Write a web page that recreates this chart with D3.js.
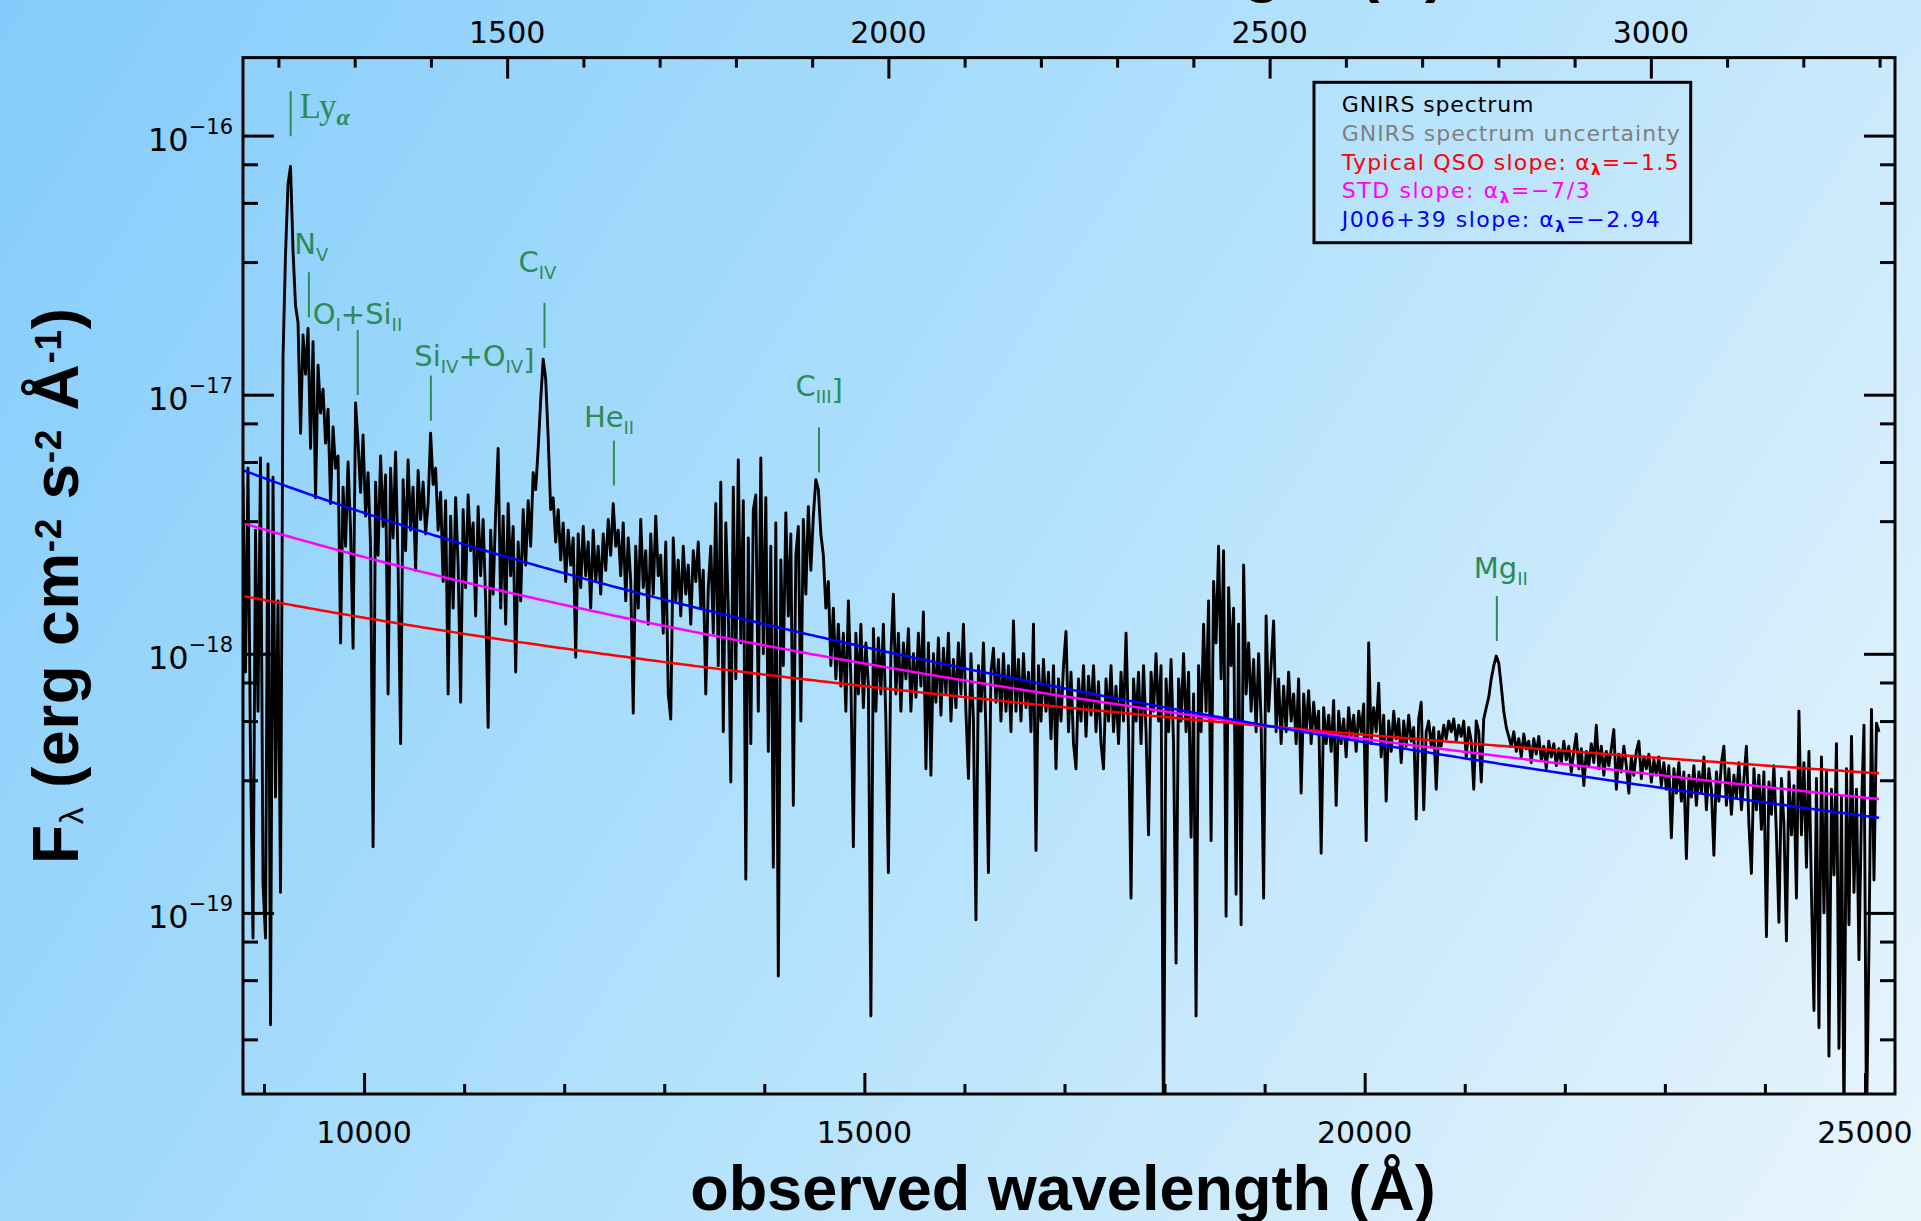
<!DOCTYPE html>
<html>
<head>
<meta charset="utf-8">
<script src="https://cdn.jsdelivr.net/npm/d3@7"></script>
<style>
  html, body { margin: 0; padding: 0; overflow: hidden; background: #ffffff; }
  svg { display: block; }
</style>
</head>
<body>
<svg id="chart" width="1921" height="1221"></svg>
<script>
// ---------------------------------------------------------------
// Data
// ---------------------------------------------------------------
const redshift = 6.62;                 // 1+z = 7.62
const fluxUnit = 1e-18;                // spectrum values are in units of 1e-18 erg/cm2/s/A
const specStart = 8790;                // first wavelength of the GNIRS grid (A)
const specStep = 25;                   // grid spacing (A)
const specFlux = [
  4.5, 0.85, 5.2, 0.4, 0.08, 3.0, 0.6, 5.7, 0.13, 0.08,
  5.4, 0.037, 4.8, 0.28, 1.6, 0.12, 14, 35, 65, 76,
  36, 22, 19, 7.1, 17, 12, 18, 6.2, 16, 4.0,
  13, 8.5, 10.5, 6.5, 8.8, 3.8, 7.5, 5.2, 5.8, 1.1,
  4.4, 2.6, 5.5, 3.0, 1.05, 9.3, 6.5, 4.2, 7.0, 3.4,
  5.0, 2.6, 0.18, 4.6, 2.4, 5.8, 3.1, 4.9, 0.7, 5.2,
  2.8, 6.0, 2.2, 0.45, 4.7, 2.5, 5.6, 3.0, 4.4, 2.1,
  5.1, 3.3, 4.6, 2.9, 3.8, 7.1, 4.5, 5.2, 3.0, 4.2,
  1.9, 3.9, 0.7, 3.4, 1.5, 4.0, 2.2, 0.65, 3.6, 1.8,
  4.1, 2.5, 3.2, 1.4, 3.7, 2.0, 3.3, 1.6, 0.52, 3.0,
  1.7, 3.5, 6.2, 1.5, 3.4, 1.3, 3.8, 2.0, 3.1, 0.85,
  2.7, 1.6, 3.6, 2.2, 3.9, 2.6, 5.0, 4.3, 6.2, 9.5,
  13.7, 11.5, 6.8, 3.6, 4.0, 2.7, 3.6, 2.3, 3.2, 1.9,
  3.0, 2.2, 2.8, 0.97, 2.9, 1.8, 3.1, 2.0, 2.7, 1.5,
  3.0, 1.9, 2.6, 1.7, 2.9, 2.1, 3.3, 2.4, 3.8, 2.6,
  3.0, 2.0, 3.2, 1.6, 2.8, 1.9, 0.59, 2.6, 1.5, 3.3,
  1.8, 2.5, 1.3, 2.9, 1.7, 3.4, 2.0, 2.4, 1.2, 2.7,
  0.7, 0.56, 2.8, 1.6, 2.3, 1.4, 2.6, 1.7, 2.2, 1.3,
  2.5, 1.9, 2.7, 1.5, 2.1, 0.7, 1.8, 2.6, 1.2, 3.8,
  0.9, 4.6, 0.5, 3.2, 1.5, 0.32, 4.4, 0.8, 5.6, 1.1,
  3.9, 0.135, 2.8, 0.45, 3.6, 4.1, 0.6, 5.7, 1.0, 4.0,
  0.42, 2.6, 0.15, 3.2, 0.057, 2.3, 0.9, 3.5, 1.4, 2.9,
  0.26, 2.4, 3.1, 0.55, 3.3, 1.7, 3.7, 2.1, 3.4, 4.7,
  4.3, 2.9, 2.4, 1.5, 1.9, 0.9, 1.5, 0.8, 1.3, 0.75,
  1.2, 0.6, 1.6, 0.8, 0.18, 1.2, 0.7, 1.3, 0.62, 1.1,
  0.75, 0.04, 1.25, 0.6, 1.15, 0.7, 1.3, 0.55, 0.143, 1.0,
  1.7, 0.7, 1.2, 0.6, 1.1, 0.8, 1.25, 0.6, 1.0, 0.68,
  1.2, 0.75, 1.45, 0.36, 1.1, 0.34, 1.0, 0.65, 1.15, 0.58,
  1.05, 0.7, 1.2, 0.55, 0.95, 0.62, 1.1, 0.7, 1.3, 0.6,
  0.33, 1.0, 0.55, 0.094, 0.9, 0.6, 1.1, 0.5, 0.143, 0.85,
  1.05, 0.65, 0.95, 0.55, 1.0, 0.6, 0.9, 0.5, 1.34, 0.6,
  0.95, 0.55, 1.0, 0.62, 0.85, 0.5, 1.3, 0.174, 0.9, 0.55,
  0.95, 0.6, 0.85, 0.47, 0.9, 0.36, 0.8, 0.55, 0.9, 1.22,
  0.5, 0.85, 0.45, 0.36, 0.8, 0.55, 0.9, 0.48, 0.82, 0.58,
  0.9, 0.5, 0.78, 0.45, 0.36, 0.8, 0.55, 0.9, 0.5, 0.75,
  0.45, 0.85, 0.55, 1.2, 0.5, 0.114, 0.8, 0.55, 0.85, 0.45,
  0.9, 0.5, 0.2, 0.85, 0.6, 1.0, 0.55, 0.9, 0.012, 0.8,
  0.5, 0.95, 0.45, 0.064, 0.8, 0.55, 1.0, 0.5, 0.85, 0.196,
  0.7, 0.04, 0.9, 0.5, 1.3, 0.6, 1.6, 0.19, 1.9, 1.1,
  2.6, 0.8, 2.5, 0.097, 1.8, 0.9, 1.5, 0.118, 1.3, 0.09,
  2.2, 0.7, 1.1, 0.6, 0.95, 0.5, 1.0, 0.55, 0.114, 1.4,
  0.6, 0.9, 1.34, 0.5, 0.8, 0.45, 0.75, 0.5, 0.85, 0.55,
  0.7, 0.45, 0.8, 0.29, 0.7, 0.5, 0.72, 0.45, 0.65, 0.5,
  0.6, 0.17, 0.62, 0.45, 0.58, 0.42, 0.66, 0.26, 0.6, 0.45,
  0.56, 0.4, 0.62, 0.48, 0.58, 0.42, 0.6, 0.5, 0.64, 0.19,
  1.1, 0.45, 0.62, 0.5, 0.77, 0.4, 0.58, 0.27, 0.55, 0.42,
  0.6, 0.47, 0.56, 0.38, 0.55, 0.44, 0.58, 0.46, 0.52, 0.23,
  0.56, 0.65, 0.25, 0.5, 0.55, 0.44, 0.52, 0.30, 0.5, 0.44,
  0.53, 0.47, 0.55, 0.5, 0.56, 0.46, 0.53, 0.48, 0.55, 0.4,
  0.52, 0.46, 0.3, 0.55, 0.5, 0.32, 0.56, 0.62, 0.68, 0.8,
  0.9, 0.98, 0.92, 0.75, 0.6, 0.52, 0.48, 0.44, 0.5, 0.42,
  0.47, 0.4, 0.49, 0.43, 0.46, 0.38, 0.47, 0.41, 0.48, 0.39,
  0.44, 0.36, 0.46, 0.4, 0.45, 0.37, 0.43, 0.38, 0.46, 0.39,
  0.44, 0.35, 0.42, 0.49, 0.36, 0.43, 0.31, 0.42, 0.37, 0.45,
  0.38, 0.53, 0.36, 0.44, 0.34, 0.42, 0.37, 0.43, 0.51, 0.3,
  0.41, 0.35, 0.44, 0.37, 0.29, 0.4, 0.34, 0.42, 0.46, 0.33,
  0.4, 0.36, 0.41, 0.32, 0.39, 0.34, 0.4, 0.31, 0.38, 0.3,
  0.37, 0.195, 0.36, 0.29, 0.38, 0.27, 0.35, 0.162, 0.34, 0.28,
  0.37, 0.26, 0.35, 0.29, 0.4, 0.25, 0.36, 0.3, 0.167, 0.35,
  0.27, 0.38, 0.44, 0.26, 0.36, 0.24, 0.34, 0.28, 0.38, 0.25,
  0.33, 0.44, 0.22, 0.142, 0.36, 0.25, 0.34, 0.21, 0.35, 0.081,
  0.32, 0.24, 0.37, 0.2, 0.092, 0.33, 0.22, 0.078, 0.35, 0.2,
  0.31, 0.114, 0.6, 0.2, 0.38, 0.15, 0.42, 0.12, 0.042, 0.33,
  0.036, 0.4, 0.1, 0.35, 0.028, 0.3, 0.14, 0.45, 0.03, 0.28,
  0.015, 0.36, 0.09, 0.48, 0.12, 0.3, 0.066, 0.25, 0.53, 0.015,
  0.075, 0.61, 0.134, 0.54, 0.5
];

// Power-law continua F_lambda ~ lambda^alpha, all pinned at a common point
const slopeNames  = ["Typical QSO slope", "STD slope", "J006+39 slope"];
const slopeAlpha  = [-1.5, -7 / 3, -2.94];
const slopeAlphaText = ["\u22121.5", "\u22127/3", "\u22122.94"];
const slopeColors = ["#ff0000", "#ff00ff", "#0000ff"];
const pivotWave = 19100;               // A
const pivotFlux = 5.22e-19;            // erg/cm2/s/A
const slopeRange = [8790, 25175];      // wavelengths covered by the continuum curves

// Emission lines (rest wavelength, label pieces: 0 = normal, 1 = subscript, 2 = lowered bracket)
const lineRest = [1216, 1240, 1304, 1400, 1549, 1640, 1909, 2798];
const lineLabels = [
  [["Ly", 0], ["\u03b1", 1]],
  [["N", 0], ["V", 1]],
  [["O", 0], ["I", 1], ["+Si", 0], ["II", 1]],
  [["Si", 0], ["IV", 1], ["+O", 0], ["IV", 1], ["]", 2]],
  [["C", 0], ["IV", 1]],
  [["He", 0], ["II", 1]],
  [["C", 0], ["III", 1], ["]", 2]],
  [["Mg", 0], ["II", 1]]
];
const lineMarkFlux = [99.4, 19.9, 9.97, 7.94, 15.15, 4.46, 5.01, 1.12]; // lower end of each marker, 1e-18 units

// Axis ticks
const obsMajor = [10000, 15000, 20000, 25000];
const obsMinor = [9000, 11000, 12000, 13000, 14000, 16000, 17000, 18000, 19000,
                  21000, 22000, 23000, 24000];
const restMajor = [1500, 2000, 2500, 3000];
const restMinor = [1200, 1300, 1400, 1600, 1700, 1800, 1900, 2100, 2200, 2300, 2400,
                   2600, 2700, 2800, 2900, 3100, 3200, 3300];
const fluxMajor = [1e-16, 1e-17, 1e-18, 1e-19];
const fluxMajorExp = ["\u221216", "\u221217", "\u221218", "\u221219"];
const fluxMinorMult = [0.775, 0.55, 0.325];

// Legend entries
const legendText = ["GNIRS spectrum", "GNIRS spectrum uncertainty"];
const legendColors = ["#000000", "#808080"];

// ---------------------------------------------------------------
// Layout
// ---------------------------------------------------------------
const W = 1921, H = 1221;
const plot = { left: 243, right: 1895, top: 57.6, bottom: 1094 };
const tickFont = "'DejaVu Sans', 'Liberation Sans', sans-serif";
const green = "#2e8b57";
// label offsets from the top of each marker, and marker lengths
const lineLabelOffset = [[9, 26.6], [-14.6, -18.4], [-45, -6], [-16.6, -10],
                         [-26, -31], [-30, -13.3], [-23.6, -31.7], [-23, -18.3]];
const markLength = [45, 45, 65, 45, 45, 45, 45, 45];

const svg = d3.select("#chart");

// background gradient
const defs = svg.append("defs");
const grad = defs.append("linearGradient")
  .attr("id", "bg").attr("gradientUnits", "userSpaceOnUse")
  .attr("x1", 0).attr("y1", 0).attr("x2", W).attr("y2", H);
grad.append("stop").attr("offset", 0).attr("stop-color", "#84ccfb");
grad.append("stop").attr("offset", 0.5).attr("stop-color", "#b2e1fc");
grad.append("stop").attr("offset", 1).attr("stop-color", "#e9f5fc");
svg.append("rect").attr("width", W).attr("height", H).attr("fill", "url(#bg)");

defs.append("clipPath").attr("id", "plotClip")
  .append("rect")
  .attr("x", plot.left).attr("y", plot.top)
  .attr("width", plot.right - plot.left).attr("height", plot.bottom - plot.top);

// scales
const x = d3.scaleLinear().domain([8790, 25300]).range([plot.left, plot.right]);
const xRest = d3.scaleLinear()
  .domain(x.domain().map(v => v / (1 + redshift)))
  .range([plot.left, plot.right]);
const y = d3.scaleLog().domain([2e-20, 2e-16]).range([plot.bottom, plot.top]);

// ---------------------------------------------------------------
// Spectrum
// ---------------------------------------------------------------
const spectrum = specFlux.map((f, i) => ({ w: specStart + i * specStep, f: f * fluxUnit }));
const gPlot = svg.append("g").attr("clip-path", "url(#plotClip)");

gPlot.append("path")
  .datum(spectrum)
  .attr("fill", "none")
  .attr("stroke", "#000")
  .attr("stroke-width", 2.9)
  .attr("stroke-linejoin", "round")
  .attr("d", d3.line().x(d => x(d.w)).y(d => y(d.f)));

// power-law continua
const slopeWaves = d3.range(slopeRange[0], slopeRange[1] + 1, 50);
slopeAlpha.forEach((a, k) => {
  const pts = slopeWaves.map(w => ({ w, f: pivotFlux * Math.pow(w / pivotWave, a) }));
  gPlot.append("path")
    .datum(pts)
    .attr("fill", "none")
    .attr("stroke", slopeColors[k])
    .attr("stroke-width", 2.5)
    .attr("d", d3.line().x(d => x(d.w)).y(d => y(d.f)));
});

// ---------------------------------------------------------------
// Emission line markers
// ---------------------------------------------------------------
const gLines = svg.append("g");
lineRest.forEach((r, k) => {
  const xm = x(r * (1 + redshift));
  const yb = y(lineMarkFlux[k] * fluxUnit);
  const yt = yb - markLength[k];
  gLines.append("line")
    .attr("x1", xm).attr("x2", xm).attr("y1", yt).attr("y2", yb)
    .attr("stroke", green).attr("stroke-width", 2);

  const isLya = k === 0;
  const t = gLines.append("text")
    .attr("x", xm + lineLabelOffset[k][0])
    .attr("y", yt + lineLabelOffset[k][1])
    .attr("fill", green)
    .attr("font-family", isLya ? "'Liberation Serif', 'Times New Roman', serif" : tickFont)
    .attr("font-size", isLya ? 35 : 29);
  let shift = 0;
  lineLabels[k].forEach(([s, kind]) => {
    const target = kind === 1 ? 7 : kind === 2 ? 4 : 0;
    const ts = t.append("tspan").text(s).attr("dy", target - shift);
    shift = target;
    if (kind === 1) {
      ts.attr("font-size", isLya ? 24 : 18);
      if (isLya) ts.attr("font-weight", "bold").attr("font-style", "italic");
    }
  });
});

// ---------------------------------------------------------------
// Axes
// ---------------------------------------------------------------
function styleAxis(g) {
  g.select(".domain").remove();
  g.selectAll(".tick line").attr("stroke", "#000").attr("stroke-width", 3);
  g.selectAll(".tick text").remove();
}
const yMinor = [];
fluxMajor.forEach(d => fluxMinorMult.forEach(m => yMinor.push(d * m)));

svg.append("g").attr("transform", `translate(${plot.left},0)`)
  .call(d3.axisLeft(y).tickValues(fluxMajor).tickSize(-31)).call(styleAxis);
svg.append("g").attr("transform", `translate(${plot.left},0)`)
  .call(d3.axisLeft(y).tickValues(yMinor).tickSize(-15)).call(styleAxis);
svg.append("g").attr("transform", `translate(${plot.right},0)`)
  .call(d3.axisRight(y).tickValues(fluxMajor).tickSize(-31)).call(styleAxis);
svg.append("g").attr("transform", `translate(${plot.right},0)`)
  .call(d3.axisRight(y).tickValues(yMinor).tickSize(-15)).call(styleAxis);

svg.append("g").attr("transform", `translate(0,${plot.bottom})`)
  .call(d3.axisBottom(x).tickValues(obsMajor).tickSize(-21)).call(styleAxis);
svg.append("g").attr("transform", `translate(0,${plot.bottom})`)
  .call(d3.axisBottom(x).tickValues(obsMinor).tickSize(-10)).call(styleAxis);
svg.append("g").attr("transform", `translate(0,${plot.top})`)
  .call(d3.axisTop(xRest).tickValues(restMajor).tickSize(-21)).call(styleAxis);
svg.append("g").attr("transform", `translate(0,${plot.top})`)
  .call(d3.axisTop(xRest).tickValues(restMinor).tickSize(-10)).call(styleAxis);

// frame
svg.append("rect")
  .attr("x", plot.left).attr("y", plot.top)
  .attr("width", plot.right - plot.left).attr("height", plot.bottom - plot.top)
  .attr("fill", "none").attr("stroke", "#000").attr("stroke-width", 3);

// tick labels
svg.append("g").selectAll("text").data(obsMajor).join("text")
  .attr("x", d => x(d)).attr("y", 1143)
  .attr("text-anchor", "middle")
  .attr("font-family", tickFont).attr("font-size", 30)
  .text(d => d);
svg.append("g").selectAll("text").data(restMajor).join("text")
  .attr("x", d => xRest(d)).attr("y", 43)
  .attr("text-anchor", "middle")
  .attr("font-family", tickFont).attr("font-size", 30)
  .text(d => d);
const yLab = svg.append("g").selectAll("text").data(fluxMajor).join("text")
  .attr("x", plot.left - 10).attr("y", d => y(d) + 15)
  .attr("text-anchor", "end")
  .attr("font-family", tickFont).attr("font-size", 32);
yLab.append("tspan").text("10");
yLab.append("tspan").attr("dy", -17).attr("font-size", 21)
  .text((d, i) => fluxMajorExp[i]);

// axis titles
const titleFont = "'Liberation Sans', Arial, Helvetica, sans-serif";
svg.append("text")
  .attr("x", 1063).attr("y", 1210)
  .attr("text-anchor", "middle")
  .attr("font-family", titleFont).attr("font-weight", "bold").attr("font-size", 63)
  .text("observed wavelength (\u00c5)");
svg.append("text")
  .attr("x", 1446).attr("y", -10)
  .attr("text-anchor", "end")
  .attr("font-family", titleFont).attr("font-weight", "bold").attr("font-size", 63)
  .text("rest wavelength (\u00c5)");

const yt = svg.append("text")
  .attr("transform", "translate(78,586) rotate(-90)")
  .attr("text-anchor", "middle")
  .attr("font-family", titleFont).attr("font-weight", "bold").attr("font-size", 64)
  .attr("textLength", 556).attr("lengthAdjust", "spacing");
[["F", 0], ["\u03bb", 1], [" (erg cm", 0], ["-2", 2], [" s", 0], ["-2", 2],
 [" \u00c5", 0], ["-1", 2], [")", 0]].forEach(([s, kind], i, arr) => {
  const ts = yt.append("tspan").text(s);
  const prev = i > 0 ? arr[i - 1][1] : 0;
  const off = k => (k === 1 ? 5 : k === 2 ? -17 : 0);
  ts.attr("dy", off(kind) - off(prev));
  if (kind === 1) ts.attr("font-size", 34).attr("font-weight", "normal");
  if (kind === 2) ts.attr("font-size", 37);
});

// ---------------------------------------------------------------
// Legend
// ---------------------------------------------------------------
const legend = { x: 1314, y: 82.3, w: 376.7, h: 160.4 };
svg.append("rect")
  .attr("x", legend.x).attr("y", legend.y).attr("width", legend.w).attr("height", legend.h)
  .attr("fill", "none").attr("stroke", "#000").attr("stroke-width", 3);
const legendWidths = [191.7, 338, 336.7, 248, 318];
const legendBase = [111.7, 141, 170, 198.3, 226.7];
legendText.forEach((s, i) => {
  svg.append("text")
    .attr("x", 1341.7).attr("y", legendBase[i])
    .attr("font-family", tickFont).attr("font-size", 22)
    .attr("fill", legendColors[i])
    .attr("textLength", legendWidths[i]).attr("lengthAdjust", "spacing")
    .text(s);
});
slopeNames.forEach((s, k) => {
  const t = svg.append("text")
    .attr("x", 1341.7).attr("y", legendBase[k + 2])
    .attr("font-family", tickFont).attr("font-size", 22)
    .attr("fill", slopeColors[k])
    .attr("textLength", legendWidths[k + 2]).attr("lengthAdjust", "spacing");
  t.append("tspan").text(s + ": \u03b1");
  t.append("tspan").attr("dy", 5).attr("font-size", 15).attr("font-weight", "bold").text("\u03bb");
  t.append("tspan").attr("dy", -5).text("=" + slopeAlphaText[k]);
});
</script>
</body>
</html>
